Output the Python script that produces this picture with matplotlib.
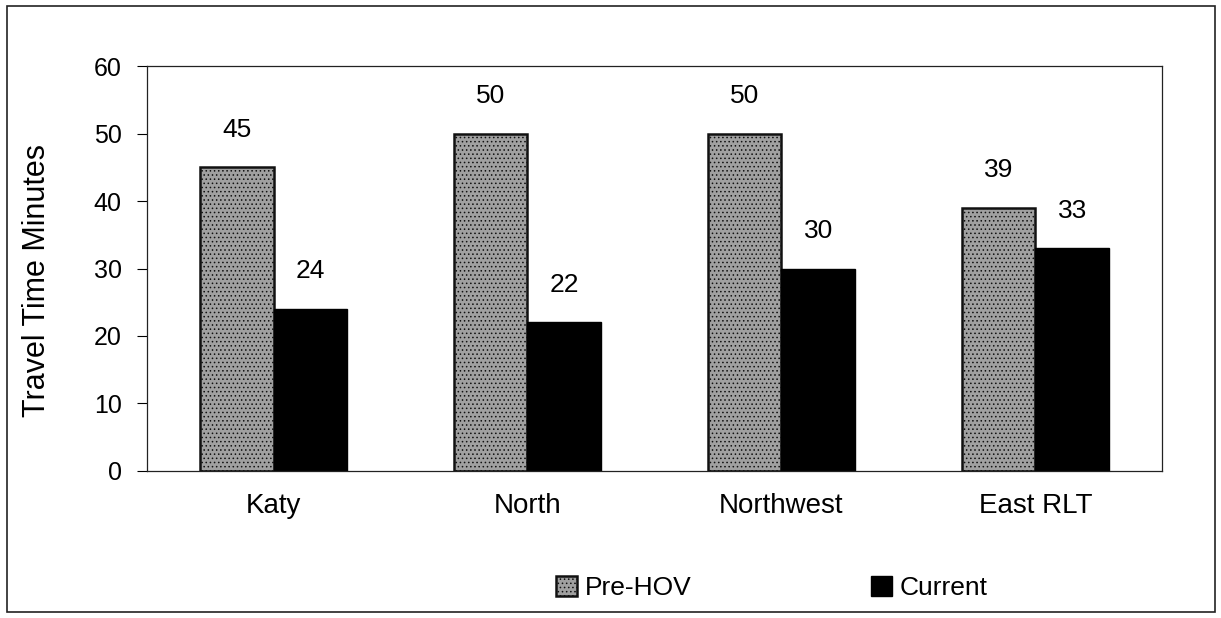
import matplotlib

matplotlib.use("Agg")
import matplotlib.pyplot as plt
import numpy as np

plt.rcParams["font.family"] = ["Liberation Sans", "DejaVu Sans"]
plt.rcParams["hatch.linewidth"] = 0.6

corredores = ["Katy", "North", "Northwest", "East RLT"]
pre_hov = [45, 50, 50, 39]
atual = [24, 22, 30, 33]
yticks = [0, 10, 20, 30, 40, 50, 60]


def main():
    fig = plt.figure(figsize=(12.21, 6.18), dpi=100, facecolor="white")
    ax = fig.add_axes([0.120, 0.238, 0.832, 0.655])

    # moldura externa do grafico
    fig.patches.append(plt.Rectangle((7 / 1221, 6 / 618), 1208 / 1221, 606 / 618,
                                     transform=fig.transFigure, fill=False,
                                     edgecolor="#222", lw=1.2))

    x = np.arange(len(corredores))
    w = 0.29
    plt.rcParams["hatch.color"] = "#555555"
    b1 = ax.bar(x - w / 2, pre_hov, w, facecolor="#a0a0a0", edgecolor="#111",
                lw=1.8, hatch="....", label="Pre-HOV")
    b2 = ax.bar(x + w / 2, atual, w, color="black", edgecolor="black",
                lw=1.0, label="Current")

    for barras, vals in [(b1, pre_hov), (b2, atual)]:
        for b, v in zip(barras, vals):
            ax.annotate(f"{v}", (b.get_x() + b.get_width() / 2, v),
                        xytext=(0, 27), textcoords="offset points",
                        ha="center", va="center", fontsize=19)

    ax.set_xlim(-0.5, len(corredores) - 0.5)
    ax.set_ylim(0, 60)
    ax.set_yticks(yticks)
    ax.set_xticks(x)
    ax.set_xticklabels(corredores, fontsize=20)
    ax.tick_params(axis="x", length=0, pad=16)
    ax.tick_params(axis="y", labelsize=18, length=7, direction="out", pad=11)
    ax.set_ylabel("Travel Time Minutes", fontsize=22)
    ax.yaxis.set_label_coords(-0.0935, 0.47)
    for s in ax.spines.values():
        s.set_linewidth(0.9)
        s.set_color("#222")

    fig.legend(handles=[b1, b2], loc="center left",
               bbox_to_anchor=(532 / 1221, 1 - 588 / 618),
               ncol=2, frameon=False, fontsize=19, handlelength=0.8,
               handleheight=0.8, handletextpad=0.3, columnspacing=6.8)

    fig.savefig("out.png", dpi=100, facecolor="white")


if __name__ == "__main__":
    main()
